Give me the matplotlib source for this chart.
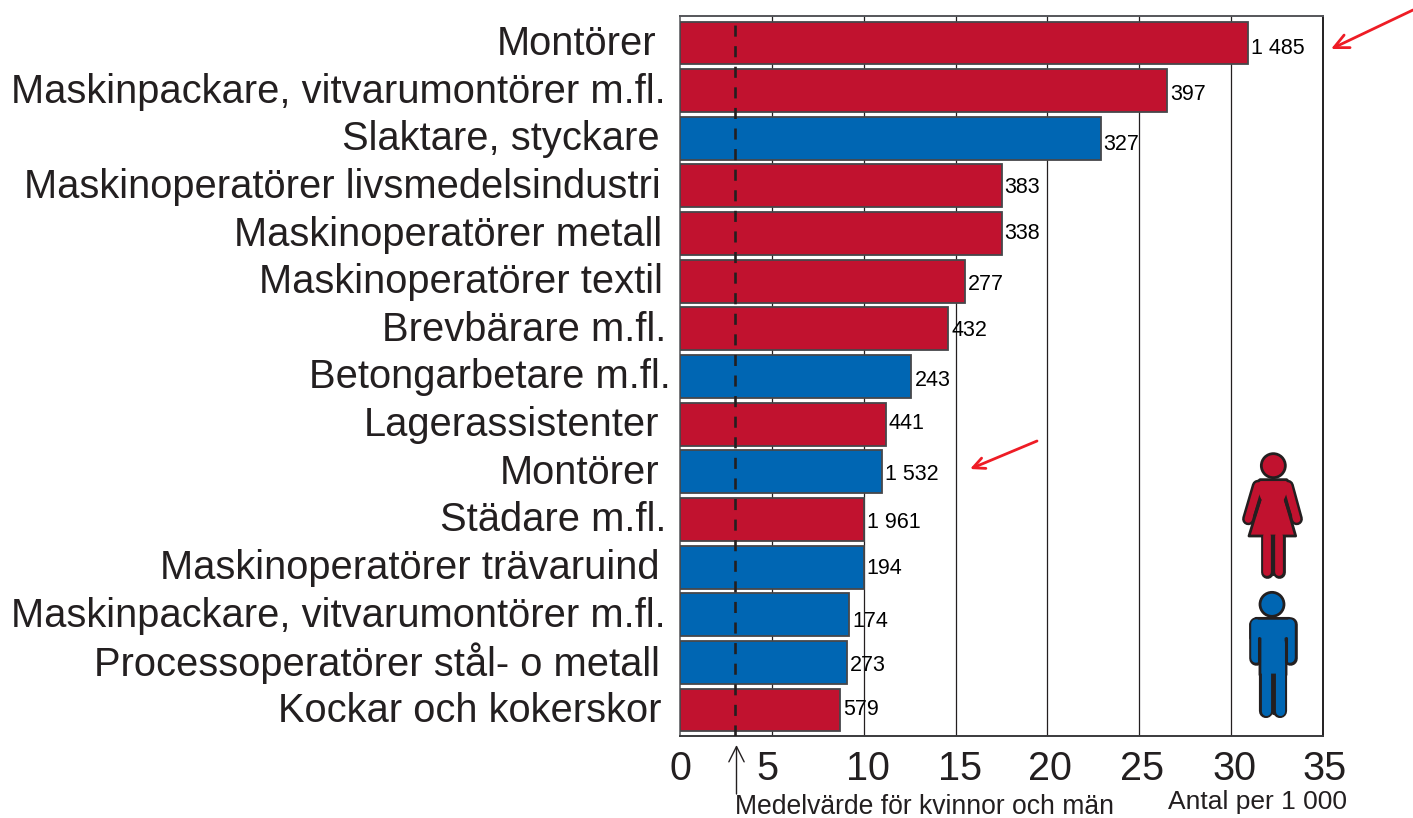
import matplotlib
matplotlib.use('Agg')
import matplotlib.pyplot as plt
from matplotlib.patches import Circle, Polygon
from matplotlib.transforms import ScaledTranslation

plt.rcParams['font.family'] = ['Liberation Sans', 'DejaVu Sans']

occupations = ['Montörer', 'Maskinpackare, vitvarumontörer m.fl.', 'Slaktare, styckare',
               'Maskinoperatörer livsmedelsindustri', 'Maskinoperatörer metall',
               'Maskinoperatörer textil', 'Brevbärare m.fl.', 'Betongarbetare m.fl.',
               'Lagerassistenter', 'Montörer', 'Städare m.fl.', 'Maskinoperatörer trävaruind',
               'Maskinpackare, vitvarumontörer m.fl.', 'Processoperatörer stål- o metall',
               'Kockar och kokerskor']
rates = [30.9, 26.5, 22.9, 17.5, 17.5, 15.5, 14.6, 12.6, 11.2, 11.0, 10.0, 10.0, 9.2, 9.1, 8.7]
counts = ['1 485', '397', '327', '383', '338', '277', '432', '243', '441', '1 532', '1 961',
          '194', '174', '273', '579']
genders = ['k', 'k', 'm', 'k', 'k', 'k', 'k', 'm', 'k', 'm', 'k', 'm', 'm', 'm', 'k']
mean_rate = 3
ticks = [0, 5, 10, 15, 20, 25, 30, 35]

RED = '#C1122F'
BLUE = '#0066B3'
DARK = '#231F20'
EDGE = '#47474A'
colors = {'k': RED, 'm': BLUE}

# hand placed in the original, so the labels do not line up exactly
label_right = [656, 666, 660, 661, 662, 663, 666, 671, 659, 659, 666, 660, 666, 660, 661]
count_dy = [6, 4, 6, 2, 0, 3, 2, 4, -1, 3, 3, 1, 7, 3, 0]

W, H = 1413, 818
fig = plt.figure(figsize=(W / 100, H / 100), dpi=100)
ax = fig.add_axes([680 / W, 1 - 736 / H, (1323 - 680) / W, (736 - 16) / H])

ypos = list(range(len(rates)))
ax.barh(ypos, rates, height=0.9, color=[colors[g] for g in genders], edgecolor=EDGE,
        linewidth=1.3, zorder=3)
ax.set_ylim(14.546, -0.567)
ax.set_xlim(0, 35)
ax.set_yticks([])
ax.set_xticks(ticks)
ax.set_xticklabels(ticks)
ax.tick_params(axis='x', length=0, pad=10, labelsize=28.5, labelcolor=DARK)
# the numbers sit a bit right of their grid lines, except the first one
shifts = [0, -4, 4, 4, 3, 3, 3, 2]
for lab, s in zip(ax.get_xticklabels(), shifts):
    lab.set_transform(lab.get_transform() + ScaledTranslation(s / 100, 0, fig.dpi_scale_trans))
for x in ticks[1:-1]:
    ax.axvline(x, color=DARK, linewidth=0.9, zorder=1)
ax.axvline(mean_rate, color=DARK, linewidth=1.9, linestyle=(0, (4.2, 3.6)), zorder=4)

ax.spines['top'].set_color('#55565A')
ax.spines['left'].set_color('#77787B')
ax.spines['right'].set_color(DARK)
ax.spines['bottom'].set_color('#3A3A3C')
for sp in ax.spines.values():
    sp.set_linewidth(1.4)

# overlay in pixel coordinates for text and drawings outside the bars
ov = fig.add_axes([0, 0, 1, 1], facecolor='none')
ov.set_xlim(0, W)
ov.set_ylim(H, 0)
ov.axis('off')

for i, name in enumerate(occupations):
    yc = 43 + 47.64 * i
    ov.text(label_right[i], yc + 1, name, ha='right', va='center', fontsize=28.7, color=DARK)
    xe = 680 + rates[i] * (1323 - 680) / 35
    ov.text(xe + 3, yc + count_dy[i], counts[i], ha='left', va='center', fontsize=15.5, color='black')

ov.text(735, 807, 'Medelvärde för kvinnor och män', ha='left', va='center', fontsize=19.1, color=DARK)
ov.text(1168, 802, 'Antal per 1 000', ha='left', va='center', fontsize=19, color=DARK)

ov.annotate('', xy=(736.5, 745), xytext=(736.5, 794),
            arrowprops=dict(arrowstyle='->,head_length=1.1,head_width=0.55', color=DARK, lw=1,
                            shrinkA=0, shrinkB=0))
for tip, tail, size in [((1331, 49), (1413, 10), 1.0), ((970, 469), (1037, 441), 0.8)]:
    ov.annotate('', xy=tip, xytext=tail,
                arrowprops=dict(arrowstyle='->,head_length=%.2f,head_width=%.2f' % (1.05 * size, 0.5 * size),
                                color='#EE1C25', lw=2, shrinkA=0, shrinkB=0))

EW = 2.0


def px(points):
    return [(1180 + a / 3, 430 + b / 3) for a, b in points]


def stroke(seg, width, color, z):
    xs, ys = zip(*px(seg))
    ov.plot(xs, ys, color=color, linewidth=width, solid_capstyle='round', zorder=z)


def pictogram(body, limbs, slits, head, color):
    # limbs are fat round lines: dark stroke below, coloured stroke on top
    for seg, w in limbs:
        stroke(seg, w, DARK, 5)
    ov.add_patch(Polygon(px(body), closed=True, facecolor=color, edgecolor=DARK, linewidth=EW,
                         joinstyle='round', zorder=6))
    for seg, w in limbs:
        stroke(seg, w - 3.6, color, 7)
    for seg in slits:
        stroke(seg, EW + 0.2, DARK, 8)
    ov.add_patch(Circle(px([head])[0], 36 / 3, facecolor=color, edgecolor=DARK, linewidth=EW, zorder=8))


woman_body = [(240, 149), (320, 149), (335, 165), (316, 210), (347, 318), (207, 318), (240, 210), (222, 165)]
woman_limbs = [([(234, 168), (205, 267)], 9), ([(323, 168), (350, 267)], 9),
               ([(260, 318), (260, 426)], 9.2), ([(296, 318), (296, 426)], 9.2)]
woman_slits = [[(278, 318), (278, 432)], [(240, 210), (224, 258)], [(316, 210), (332, 258)]]
pictogram(woman_body, woman_limbs, woman_slits, (280, 107), RED)

man_body = [(228, 565), (328, 565), (345, 582), (345, 625), (318, 625), (318, 735), (240, 735), (240, 625),
            (212, 625), (212, 582)]
man_limbs = [([(228, 582), (228, 684)], 10.5), ([(330, 582), (330, 684)], 10.5),
             ([(259, 640), (259, 842)], 10.2), ([(299, 640), (299, 842)], 10.2)]
man_slits = [[(279, 735), (279, 848)], [(238, 625), (238, 695)], [(318, 625), (318, 695)]]
pictogram(man_body, man_limbs, man_slits, (276, 523), BLUE)

fig.savefig('out.png', dpi=100)
